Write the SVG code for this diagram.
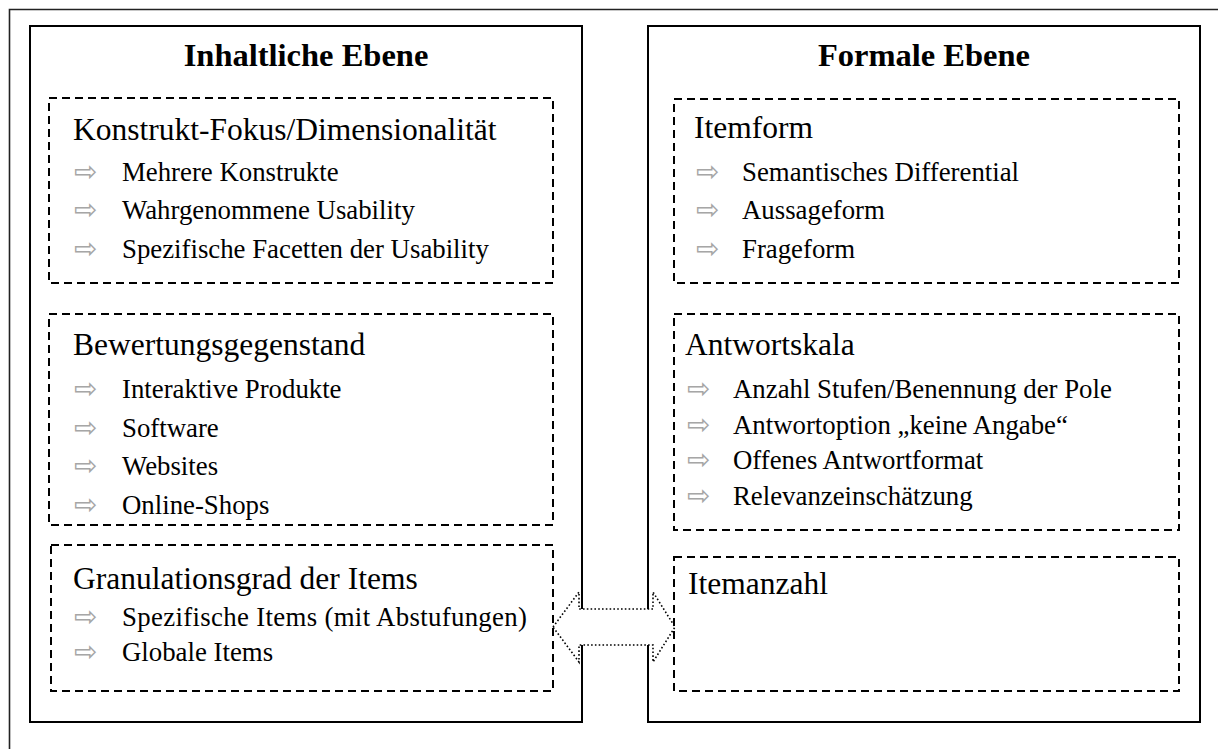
<svg xmlns="http://www.w3.org/2000/svg" width="1218" height="749" viewBox="0 0 1218 749">
<style>
.frame{fill:none;stroke:#222;stroke-width:1.6}
.box{fill:none;stroke:#000;stroke-width:2}
.dash{fill:none;stroke:#000;stroke-width:2;stroke-dasharray:8 5}
.title{font-family:"Liberation Serif","Times New Roman",serif;font-weight:bold;font-size:32.5px;fill:#000;text-anchor:middle}
.head{font-family:"Liberation Serif","Times New Roman",serif;font-size:31.5px;fill:#000}
.item{font-family:"Liberation Serif","Times New Roman",serif;font-size:26.8px;fill:#000}
.bul{font-family:"DejaVu Sans",sans-serif;font-size:28px;fill:#a6a6a6}
.arrow{fill:#fff;stroke:#000;stroke-width:1.6;stroke-dasharray:1.6 2.2}
</style>
<rect width="1218" height="749" fill="#fff"/>
<path class="frame" d="M9.5,749 V9.5 H1218"/>
<g id="inhaltliche">
<rect class="box" x="30" y="26" width="552" height="696"/>
<text class="title" x="306" y="66">Inhaltliche Ebene</text>
</g>
<g id="formale">
<rect class="box" x="648" y="26" width="552" height="696"/>
<text class="title" x="924" y="66">Formale Ebene</text>
</g>
<g id="connectors">
<path class="arrow" d="M553,627 L579,592 V609 H653 V592 L675,627 L653,662 V645 H579 V662 Z"/>
</g>
<g id="konstrukt">
<rect class="dash" x="49" y="98" width="504" height="185"/>
<text class="head" x="73" y="140">Konstrukt-Fokus/Dimensionalität</text>
<text class="bul" x="74" y="181">⇨</text><text class="item" x="122" y="181">Mehrere Konstrukte</text>
<text class="bul" x="74" y="219">⇨</text><text class="item" x="122" y="219">Wahrgenommene Usability</text>
<text class="bul" x="74" y="258">⇨</text><text class="item" x="122" y="258">Spezifische Facetten der Usability</text>
</g>
<g id="bewertung">
<rect class="dash" x="49" y="314" width="504" height="211"/>
<text class="head" x="73" y="355">Bewertungsgegenstand</text>
<text class="bul" x="74" y="398">⇨</text><text class="item" x="122" y="398">Interaktive Produkte</text>
<text class="bul" x="74" y="437">⇨</text><text class="item" x="122" y="437">Software</text>
<text class="bul" x="74" y="475">⇨</text><text class="item" x="122" y="475">Websites</text>
<text class="bul" x="74" y="514">⇨</text><text class="item" x="122" y="514">Online-Shops</text>
</g>
<g id="granulation">
<rect class="dash" x="51" y="545" width="502" height="146"/>
<text class="head" x="73" y="589">Granulationsgrad der Items</text>
<text class="bul" x="74" y="626">⇨</text><text class="item" x="122" y="626" textLength="405">Spezifische Items (mit Abstufungen)</text>
<text class="bul" x="74" y="661">⇨</text><text class="item" x="122" y="661">Globale Items</text>
</g>
<g id="itemform">
<rect class="dash" x="674" y="99" width="505" height="184"/>
<text class="head" x="694" y="138">Itemform</text>
<text class="bul" x="696" y="181">⇨</text><text class="item" x="742" y="181">Semantisches Differential</text>
<text class="bul" x="696" y="219">⇨</text><text class="item" x="742" y="219">Aussageform</text>
<text class="bul" x="696" y="258">⇨</text><text class="item" x="742" y="258">Frageform</text>
</g>
<g id="antwortskala">
<rect class="dash" x="674" y="314" width="505" height="216"/>
<text class="head" x="685" y="355">Antwortskala</text>
<text class="bul" x="687" y="398">⇨</text><text class="item" x="733" y="398">Anzahl Stufen/Benennung der Pole</text>
<text class="bul" x="687" y="434">⇨</text><text class="item" x="733" y="434">Antwortoption „keine Angabe“</text>
<text class="bul" x="687" y="469">⇨</text><text class="item" x="733" y="469">Offenes Antwortformat</text>
<text class="bul" x="687" y="505">⇨</text><text class="item" x="733" y="505">Relevanzeinschätzung</text>
</g>
<g id="itemanzahl">
<rect class="dash" x="674" y="557" width="505" height="134"/>
<text class="head" x="688" y="594">Itemanzahl</text>
</g>
</svg>
